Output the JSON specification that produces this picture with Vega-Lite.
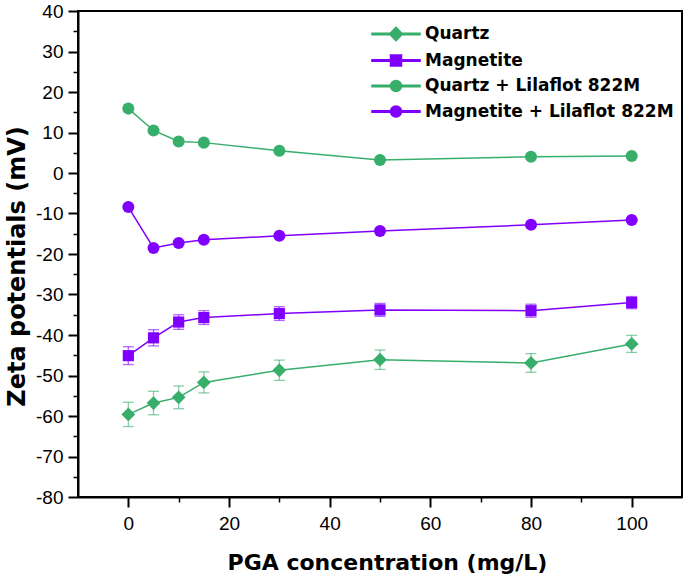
{
  "$schema": "https://vega.github.io/schema/vega-lite/v6.json",
  "width": 604,
  "height": 486,
  "autosize": "none",
  "padding": {"left": 78, "top": 11, "right": 3, "bottom": 82},
  "background": "white",
  "data": {
    "values": [
      {"series": "Quartz", "x": 0, "y": -59.6, "lo": -62.6, "hi": -56.6},
      {"series": "Quartz", "x": 5, "y": -56.8, "lo": -59.7, "hi": -53.9},
      {"series": "Quartz", "x": 10, "y": -55.4, "lo": -58.2, "hi": -52.6},
      {"series": "Quartz", "x": 15, "y": -51.7, "lo": -54.3, "hi": -49.1},
      {"series": "Quartz", "x": 30, "y": -48.7, "lo": -51.2, "hi": -46.2},
      {"series": "Quartz", "x": 50, "y": -46.1, "lo": -48.5, "hi": -43.7},
      {"series": "Quartz", "x": 80, "y": -46.9, "lo": -49.2, "hi": -44.6},
      {"series": "Quartz", "x": 100, "y": -42.2, "lo": -44.3, "hi": -40.1},
      {"series": "Magnetite", "x": 0, "y": -45.1, "lo": -47.3, "hi": -42.9},
      {"series": "Magnetite", "x": 5, "y": -40.7, "lo": -42.7, "hi": -38.7},
      {"series": "Magnetite", "x": 10, "y": -36.8, "lo": -38.6, "hi": -35.0},
      {"series": "Magnetite", "x": 15, "y": -35.7, "lo": -37.4, "hi": -34.0},
      {"series": "Magnetite", "x": 30, "y": -34.7, "lo": -36.4, "hi": -33.0},
      {"series": "Magnetite", "x": 50, "y": -33.8, "lo": -35.4, "hi": -32.2},
      {"series": "Magnetite", "x": 80, "y": -34.0, "lo": -35.6, "hi": -32.4},
      {"series": "Magnetite", "x": 100, "y": -32.0, "lo": -33.5, "hi": -30.5},
      {"series": "Quartz + Lilaflot 822M", "x": 0, "y": 15.9},
      {"series": "Quartz + Lilaflot 822M", "x": 5, "y": 10.5},
      {"series": "Quartz + Lilaflot 822M", "x": 10, "y": 7.8},
      {"series": "Quartz + Lilaflot 822M", "x": 15, "y": 7.5},
      {"series": "Quartz + Lilaflot 822M", "x": 30, "y": 5.5},
      {"series": "Quartz + Lilaflot 822M", "x": 50, "y": 3.2},
      {"series": "Quartz + Lilaflot 822M", "x": 80, "y": 4.0},
      {"series": "Quartz + Lilaflot 822M", "x": 100, "y": 4.2},
      {"series": "Magnetite + Lilaflot 822M", "x": 0, "y": -8.4},
      {"series": "Magnetite + Lilaflot 822M", "x": 5, "y": -18.5},
      {"series": "Magnetite + Lilaflot 822M", "x": 10, "y": -17.3},
      {"series": "Magnetite + Lilaflot 822M", "x": 15, "y": -16.5},
      {"series": "Magnetite + Lilaflot 822M", "x": 30, "y": -15.5},
      {"series": "Magnetite + Lilaflot 822M", "x": 50, "y": -14.3},
      {"series": "Magnetite + Lilaflot 822M", "x": 80, "y": -12.8},
      {"series": "Magnetite + Lilaflot 822M", "x": 100, "y": -11.6}
    ]
  },
  "config": {
    "view": {"stroke": "black", "strokeWidth": 2},
    "legend": {"symbolOpacity": 1},
    "axis": {
      "grid": false,
      "domainColor": "black",
      "domainWidth": 2,
      "tickColor": "black",
      "tickWidth": 2,
      "labelColor": "black",
      "labelFont": "Liberation Sans",
      "labelFontSize": 19,
      "titleColor": "black",
      "titleFont": "DejaVu Sans",
      "titleFontWeight": "bold"
    }
  },
  "resolve": {"axis": {"x": "independent", "y": "independent"}},
  "layer": [
    {
      "mark": {"type": "point", "filled": true, "opacity": 0},
      "encoding": {
        "x": {
          "field": "x", "type": "quantitative",
          "scale": {"domain": [-10, 110], "nice": false, "zero": false},
          "axis": {
            "orient": "bottom",
            "values": [0, 20, 40, 60, 80, 100],
            "tickSize": 10,
            "labelPadding": 7,
            "title": "PGA concentration (mg/L)",
            "titleFontSize": 22,
            "titleX": 309,
            "titleY": 72,
            "titleBaseline": "alphabetic",
            "titleAlign": "center"
          }
        },
        "y": {
          "field": "y", "type": "quantitative",
          "scale": {"domain": [-80, 40], "nice": false, "zero": false},
          "axis": {
            "orient": "left",
            "values": [-80, -70, -60, -50, -40, -30, -20, -10, 0, 10, 20, 30, 40],
            "labelExpr": "'' + datum.value",
            "tickSize": 10,
            "labelPadding": 5,
            "title": "Zeta potentials (mV)",
            "titleFontSize": 24,
            "titleAngle": 270,
            "titleX": -54,
            "titleY": 255,
            "titleBaseline": "alphabetic",
            "titleAlign": "center"
          }
        },
        "color": {
          "field": "series", "type": "nominal",
          "scale": {
            "domain": ["Quartz", "Magnetite", "Quartz + Lilaflot 822M", "Magnetite + Lilaflot 822M"],
            "range": ["#38ae6b", "#8000ff", "#38ae6b", "#8000ff"]
          },
          "legend": {
            "orient": "none",
            "legendX": 307,
            "legendY": 12,
            "title": null,
            "padding": 0,
            "symbolSize": 400,
            "symbolOpacity": 1,
            "labelOffset": 18,
            "rowPadding": 5.5,
            "labelFont": "DejaVu Sans",
            "labelFontWeight": "bold",
            "labelFontSize": 17,
            "labelColor": "black",
            "labelLimit": 400
          }
        },
        "shape": {
          "field": "series", "type": "nominal",
          "scale": {
            "domain": ["Quartz", "Magnetite", "Quartz + Lilaflot 822M", "Magnetite + Lilaflot 822M"],
            "range": [
              "M-2.4,-0.075H2.4V0.075H-2.4ZM0,-0.66L0.66,0L0,0.66L-0.66,0Z",
              "M-2.4,-0.075H2.4V0.075H-2.4ZM-0.55,-0.55H0.55V0.55H-0.55Z",
              "M-2.4,-0.075H2.4V0.075H-2.4ZM-0.55,0A0.55,0.55,0,1,1,0.55,0A0.55,0.55,0,1,1,-0.55,0Z",
              "M-2.4,-0.075H2.4V0.075H-2.4ZM-0.55,0A0.55,0.55,0,1,1,0.55,0A0.55,0.55,0,1,1,-0.55,0Z"
            ]
          }
        }
      }
    },
    {
      "transform": [{"filter": "datum.lo != null"}],
      "mark": {"type": "rule", "strokeWidth": 1.3, "opacity": 0.6},
      "encoding": {
        "x": {"field": "x", "type": "quantitative", "axis": null},
        "y": {"field": "lo", "type": "quantitative", "axis": null},
        "y2": {"field": "hi"},
        "color": {"field": "series", "type": "nominal"}
      }
    },
    {
      "transform": [{"filter": "datum.lo != null"}],
      "mark": {"type": "tick", "orient": "horizontal", "size": 11, "thickness": 1.3, "opacity": 0.6},
      "encoding": {
        "x": {"field": "x", "type": "quantitative", "axis": null},
        "y": {"field": "lo", "type": "quantitative", "axis": null},
        "color": {"field": "series", "type": "nominal"}
      }
    },
    {
      "transform": [{"filter": "datum.lo != null"}],
      "mark": {"type": "tick", "orient": "horizontal", "size": 11, "thickness": 1.3, "opacity": 0.6},
      "encoding": {
        "x": {"field": "x", "type": "quantitative", "axis": null},
        "y": {"field": "hi", "type": "quantitative", "axis": null},
        "color": {"field": "series", "type": "nominal"}
      }
    },
    {
      "mark": {"type": "line", "strokeWidth": 1.5},
      "encoding": {
        "x": {"field": "x", "type": "quantitative", "axis": null},
        "y": {"field": "y", "type": "quantitative", "axis": null},
        "color": {"field": "series", "type": "nominal"},
        "detail": {"field": "series"}
      }
    },
    {
      "transform": [{"filter": "datum.series === 'Quartz'"}],
      "mark": {"type": "point", "shape": "diamond", "filled": true, "opacity": 1, "size": 190},
      "encoding": {
        "x": {"field": "x", "type": "quantitative", "axis": null},
        "y": {"field": "y", "type": "quantitative", "axis": null},
        "color": {"field": "series", "type": "nominal"}
      }
    },
    {
      "transform": [{"filter": "datum.series === 'Magnetite'"}],
      "mark": {"type": "point", "shape": "square", "filled": true, "opacity": 1, "size": 125},
      "encoding": {
        "x": {"field": "x", "type": "quantitative", "axis": null},
        "y": {"field": "y", "type": "quantitative", "axis": null},
        "color": {"field": "series", "type": "nominal"}
      }
    },
    {
      "transform": [{"filter": "datum.lo == null"}],
      "mark": {"type": "point", "shape": "circle", "filled": true, "opacity": 1, "size": 145},
      "encoding": {
        "x": {"field": "x", "type": "quantitative", "axis": null},
        "y": {"field": "y", "type": "quantitative", "axis": null},
        "color": {"field": "series", "type": "nominal"}
      }
    },
    {
      "mark": {"type": "point", "opacity": 0},
      "encoding": {
        "x": {
          "field": "x", "type": "quantitative",
          "axis": {"orient": "bottom", "values": [10, 30, 50, 70, 90], "labels": false, "domain": false, "tickSize": 5, "tickWidth": 1.5, "title": null}
        },
        "y": {
          "field": "y", "type": "quantitative",
          "axis": {"orient": "left", "values": [-75, -65, -55, -45, -35, -25, -15, -5, 5, 15, 25, 35], "labels": false, "domain": false, "tickSize": 5, "tickWidth": 1.5, "title": null}
        }
      }
    }
  ]
}
